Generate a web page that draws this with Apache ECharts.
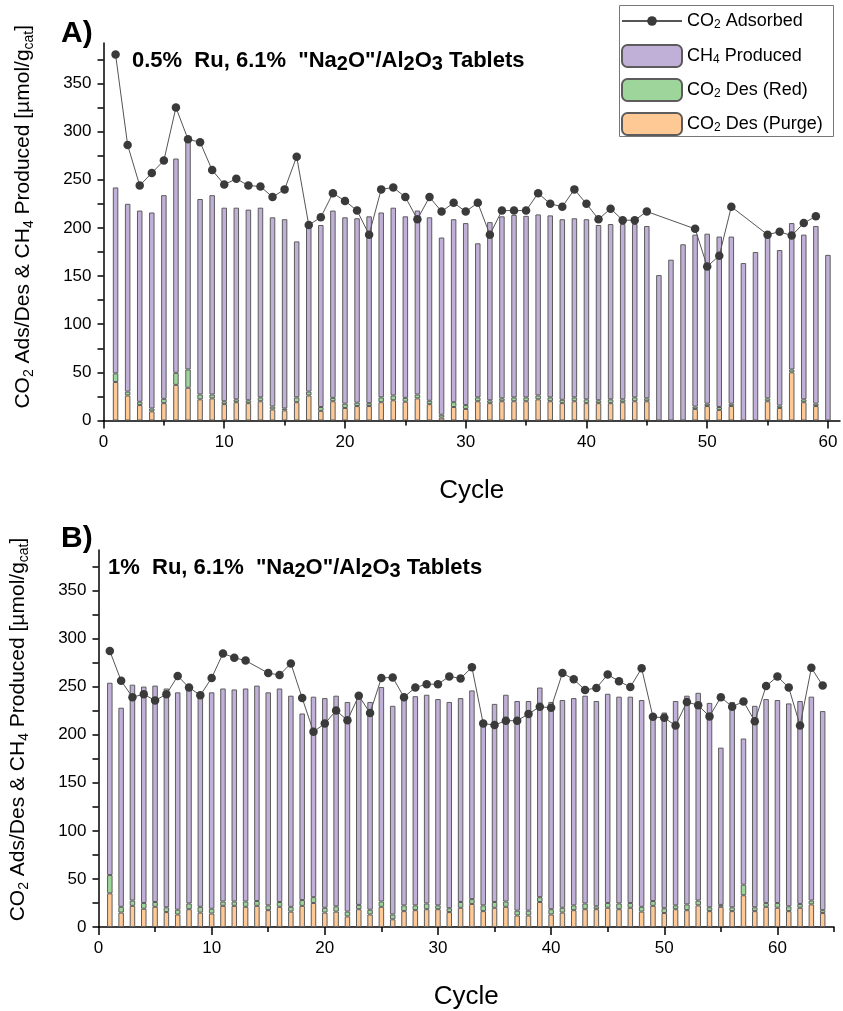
<!DOCTYPE html>
<html><head><meta charset="utf-8">
<script src="https://cdn.jsdelivr.net/npm/echarts@6/dist/echarts.min.js"></script>
<style>html,body{margin:0;padding:0;background:#fff}#c{width:843px;height:1011px}</style>
</head><body><div id="c"></div>
<script>
// ---------- Panel A data (0.5% Ru) ----------
const cyclesA = [1,2,3,4,5,6,7,8,9,10,11,12,13,14,15,16,17,18,19,20,21,22,23,24,25,26,27,28,29,30,31,32,33,34,35,36,37,38,39,40,41,42,43,44,45,46,47,48,49,50,51,52,53,54,55,56,57,58,59,60];
const purgeA = [40,26,16,9.5,18,37,34,22,23,17,19,18,20,11.5,10.5,19,26,10,20,13,15,15,19,21,19.5,23,17,3,14,12,20,18,20,20,20,22,20,18,20,18,18,18,19,20,20,null,null,null,12,15,11,15,null,null,20,13,50,19,15,null];
const redA = [9,4,3.5,3,4.5,12.5,19,5,4,3,3,3,4,3,2,5,4,4,3.5,4.5,3.5,3,5,5,4,4,3.5,3,5,4,4,3,3,4,4,4,4,3.5,4,4,3,4,3,4,3,null,null,null,2.5,2.5,3,2.5,null,null,3,2.5,3,3,2.5,null];
const ch4A = [193,195,198.5,203.5,211.5,222.5,237,203,207,201,199,198,197,196.5,196.5,162,173,189,194.5,193.5,191.5,194,192,195,188.5,191,190.5,184,190,189,160,185,189,189.5,188.5,188,189,187.5,186,187,182,182,182,180,179,151,167,183,178.5,176.5,177,173.5,163.5,175,168,161.5,152,171,184.5,172];
const adsA = [380,286,244,257,270,325,292,289,260,245,251,244,243,232,240,274,203,211,236,228,218,193,240,242,232,209,232,217,226,217,226,193,218,218,218,236,225,222,240,225,209,220,208,208,217,null,null,null,199,160,171,222,null,null,193,196,192,205,212,null];

// ---------- Panel B data (1% Ru) ----------
const cyclesB = [1,2,3,4,5,6,7,8,9,10,11,12,13,14,15,16,17,18,19,20,21,22,23,24,25,26,27,28,29,30,31,32,33,34,35,36,37,38,39,40,41,42,43,44,45,46,47,48,49,50,51,52,53,54,55,56,57,58,59,60,61,62,63,64];
const purgeB = [35,15,22,19,21,15.5,13,18.5,15,14,22,22,21,22,17.5,21,16,22,25,15,16,11,18.5,13,21,8,16.5,17.5,18.5,18.5,15.5,20,24,16.5,20,21,12,12,26,13,15,17.5,18.5,18.5,20,18.5,20,16,22,14.5,18.5,17.5,22.5,16.5,21,16.5,33,16.5,21,20,16.5,20,23.5,14.5];
const redB = [19,6,5.5,6,5,5,5,6,6,5,4.5,4.5,5.5,5,5,5,5,6,6,5,5.5,5,4.5,5,5.5,5,6,5,6,4,4,6,5,6,6,5.5,5,5,5,5.5,5,5,6,3,5,6,5,5,5,5,4,6,5,4,2,4,11,4,4,5,5,4,4,3];
const ch4B = [200,207,224.5,225,225,227.5,226,223.5,222.5,225,221.5,220.5,221.5,224,221.5,222,219.5,194,208.5,218,219,218,217.5,216,223,217,214.5,217.5,217,214.5,214.5,212,217,190.5,206,215,218,218,218,215.5,216,215.5,216,213.5,217.5,215,214.5,215,192.5,203.5,212.5,217,216,212.5,163.5,213.5,152,209.5,212,211,211,211,212,207];
const adsB = [287,256,239,242,235.5,242,261,249,241,259,284.5,280,277,null,264,262,274,238,203,211.5,225,215,240.5,222.5,259,259.5,239,249,252.5,252.5,260.5,258.5,270,211.5,210,214.5,214.5,221.5,229,228,264,257.5,246.5,248.5,262.5,255.5,249.5,269,218.5,217.5,209.5,234,230.5,219,239,229,234.5,214,250.5,260.5,249,209.5,269.5,251];

// ---------- Axis ticks ----------
const xMaxA = 61, xMaxB = 65;
const yTicks = [0,25,50,75,100,125,150,175,200,225,250,275,300,325,350,375];
const yLabels = [0,50,100,150,200,250,300,350];
const xMajorA = [0,10,20,30,40,50,60];
const xMinorA = [5,15,25,35,45,55];
const xMajorB = [0,10,20,30,40,50,60];
const xMinorB = [5,15,25,35,45,55,65];

const FONT = 'Liberation Sans, Arial, sans-serif';
const COL_PURGE = '#FFC995', COL_RED = '#9DD59A', COL_CH4 = '#C0B0D8';

const axisCats = max => Array.from({length: max + 1}, (_, i) => String(i));
const pairs = (xs, ys) => xs.map((x, i) => [x, ys[i]]);
const linePairs = (xs, ys) => xs.map((x, i) => [x, ys[i]]).filter(p => p[1] != null);

const nameRich = {
  n: {fontSize: 21, fontFamily: FONT, color: '#000', lineHeight: 26},
  s: {fontSize: 14, fontFamily: FONT, color: '#000', lineHeight: 14, verticalAlign: 'bottom'}
};
const yName = '{n|CO}{s|2}{n| Ads/Des & CH}{s|4}{n| Produced [µmol/g}{s|cat}{n|]}';

function xAxes(grid, max, major, minor) {
  const cats = axisCats(max);
  return [{
    type: 'category', gridIndex: grid, data: cats, boundaryGap: false, position: 'bottom',
    axisLine: {show: true, onZero: false, lineStyle: {color: '#000', width: 1.5}},
    axisTick: {show: true, length: 8, interval: i => major.includes(i), lineStyle: {color: '#000', width: 1.5}},
    axisLabel: {show: true, interval: i => major.includes(i), fontSize: 17, fontFamily: FONT, color: '#000', margin: 13},
    splitLine: {show: false},
    name: 'Cycle', nameLocation: 'middle', nameGap: 57,
    nameTextStyle: {fontSize: 26, fontFamily: FONT, color: '#000'}
  }, {
    type: 'category', gridIndex: grid, data: cats, boundaryGap: false, position: 'bottom',
    axisLine: {show: false},
    axisTick: {show: true, length: 5, interval: i => minor.includes(i), lineStyle: {color: '#000', width: 1.5}},
    axisLabel: {show: false}, splitLine: {show: false}
  }];
}
function yAxis(grid, shift) {
  return {
    type: 'value', gridIndex: grid, min: 0, max: 392,
    axisLine: {show: true, onZero: false, lineStyle: {color: '#000', width: 1.5}},
    axisTick: {show: true, length: 6, customValues: yTicks, lineStyle: {color: '#000', width: 1.5}},
    axisLabel: {show: true, customValues: yLabels, fontSize: 17, fontFamily: FONT, color: '#000', margin: 12},
    splitLine: {show: false},
    name: yName, nameLocation: 'middle', nameGap: 67,
    nameTextStyle: {rich: nameRich, padding: [0, 0, 0, shift]}
  };
}
function panelSeries(xi, yi, cyc, purge, red, ch4, ads) {
  const bar = (name, data, color) => ({
    type: 'bar', name: name, xAxisIndex: xi, yAxisIndex: yi, stack: 'st' + xi,
    barWidth: 5.5, data: pairs(cyc, data),
    itemStyle: {color: color, borderColor: '#5c5c5c', borderWidth: 1},
    emphasis: {disabled: true}
  });
  return [
    bar('CO2 Des (Purge)', purge, COL_PURGE),
    bar('CO2 Des (Red)', red, COL_RED),
    bar('CH4 Produced', ch4, COL_CH4),
    {
      type: 'line', name: 'CO2 Adsorbed', xAxisIndex: xi, yAxisIndex: yi,
      data: linePairs(cyc, ads), symbol: 'circle', symbolSize: 8.5, showAllSymbol: true, z: 5,
      itemStyle: {color: '#3a3a3a'}, lineStyle: {color: '#555', width: 1},
      emphasis: {disabled: true}
    }
  ];
}

const legendNames = {
  'CO2 Adsorbed': '{n|CO}{s|2}{n| Adsorbed}',
  'CH4 Produced': '{n|CH}{s|4}{n| Produced}',
  'CO2 Des (Red)': '{n|CO}{s|2}{n| Des (Red)}',
  'CO2 Des (Purge)': '{n|CO}{s|2}{n| Des (Purge)}'
};
const legendText = {rich: {
  n: {fontSize: 18, fontFamily: FONT, color: '#000', lineHeight: 20},
  s: {fontSize: 12, fontFamily: FONT, color: '#000', lineHeight: 11, verticalAlign: 'bottom'}
}};

const titleRich = {
  b: {fontSize: 22, fontWeight: 'bold', fontFamily: FONT, color: '#000', lineHeight: 27},
  bs: {fontSize: 20, fontWeight: 'bold', fontFamily: FONT, color: '#000', lineHeight: 15, verticalAlign: 'bottom'}
};

const chart = echarts.init(document.getElementById('c'), null, {renderer: 'canvas'});
chart.setOption({
  animation: false,
  backgroundColor: '#fff',
  grid: [
    {left: 103.5, right: 3, top: 43, bottom: 590.5, containLabel: false},
    {left: 97, right: 9, top: 550, bottom: 83.7, containLabel: false}
  ],
  xAxis: [...xAxes(0, xMaxA, xMajorA, xMinorA), ...xAxes(1, xMaxB, xMajorB, xMinorB)],
  yAxis: [yAxis(0, 30), yAxis(1, 18)],
  legend: [{
    data: ['CO2 Adsorbed'],
    orient: 'vertical', left: 621, top: 12, padding: 0,
    itemWidth: 60, itemHeight: 12, selectedMode: false,
    formatter: name => legendNames[name], textStyle: legendText
  }, {
    data: ['CH4 Produced', 'CO2 Des (Red)', 'CO2 Des (Purge)'],
    orient: 'vertical', left: 621, top: 44, padding: 0,
    itemWidth: 60, itemHeight: 22, itemGap: 10, selectedMode: false,
    formatter: name => legendNames[name], textStyle: legendText
  }],
  graphic: [
    {type: 'rect', shape: {x: 619.5, y: 5.5, width: 214, height: 131}, style: {fill: 'none', stroke: '#777', lineWidth: 1}},
    {type: 'text', left: 61, top: 19, style: {text: 'A)', font: 'bold 30px ' + FONT, fill: '#000'}},
    {type: 'text', left: 61, top: 524, style: {text: 'B)', font: 'bold 30px ' + FONT, fill: '#000'}},
    {type: 'text', left: 132, top: 50, style: {text: '{b|0.5%  Ru, 6.1%  "Na}{bs|2}{b|O"/Al}{bs|2}{b|O}{bs|3}{b| Tablets}', rich: titleRich}},
    {type: 'text', left: 108, top: 557, style: {text: '{b|1%  Ru, 6.1%  "Na}{bs|2}{b|O"/Al}{bs|2}{b|O}{bs|3}{b| Tablets}', rich: titleRich}}
  ],
  series: [
    ...panelSeries(0, 0, cyclesA, purgeA, redA, ch4A, adsA),
    ...panelSeries(2, 1, cyclesB, purgeB, redB, ch4B, adsB)
  ]
});
</script>
</body></html>
